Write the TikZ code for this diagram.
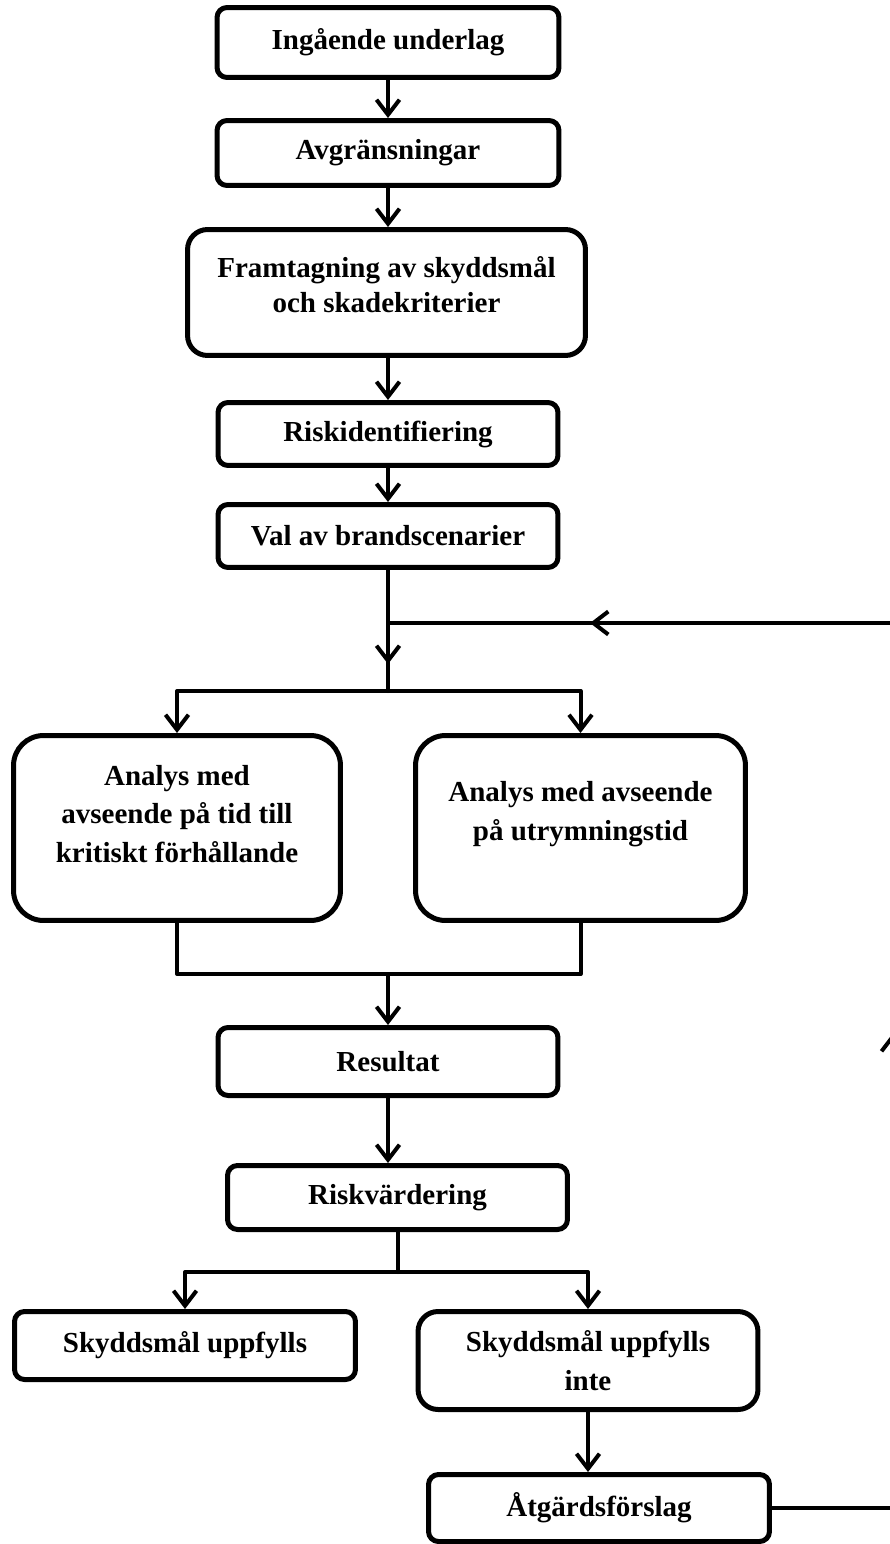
\documentclass[tikz,border=0pt]{standalone}
\usepackage{fontspec}
\setmainfont{Liberation Serif}
\usetikzlibrary{arrows.meta}

\begin{document}
\begin{tikzpicture}[
    x=0.02cm,
    y=-0.02cm,
    every path/.style={line cap=round,line join=round},
    txt/.style={align=center,inner sep=0pt,
      font=\bfseries\fontsize{16.5}{22}\selectfont},
    box/.style={txt,draw,line width=0.1cm,rounded corners=0.2cm},
    midbox/.style={box,rounded corners=0.4cm},
    bigbox/.style={box,rounded corners=0.6cm},
    conn/.style={line width=0.08cm},
    arr/.style={conn,-{Straight Barb[length=0.3cm,width=0.46cm]}}
  ]
    \useasboundingbox (0,0) rectangle (889,1544);

    % Upper chain of steps.
    \node[box,minimum width=6.84cm,minimum height=1.4cm] (ingaende) at (388,42.5) {Ingående underlag};
    \node[box,minimum width=6.84cm,minimum height=1.3cm] (avgr) at (388,153) {Avgränsningar};
    \node[midbox,minimum width=7.96cm,minimum height=2.52cm] (framt) at (386.5,292.5) {};
    \node[txt,font=\bfseries\fontsize{16.5}{20}\selectfont] (framttext) at (386.5,285)
      {Framtagning av skyddsmål\\och skadekriterier};
    \node[box,minimum width=6.8cm,minimum height=1.26cm] (riskid) at (388,434) {Riskidentifiering};
    \node[box,minimum width=6.8cm,minimum height=1.26cm] (val) at (388,536) {Val av brandscenarier};

    \draw[arr] (ingaende.south) -- (avgr.north);
    \draw[arr] (avgr.south) -- (avgr.south |- framt.north);
    \draw[arr] (avgr.south |- framt.south) -- (riskid.north);
    \draw[arr] (riskid.south) -- (val.north);

    % Split into the two analyses.
    \coordinate (loopin) at (388,623);
    \coordinate (midtip) at (388,664);
    \coordinate (fork) at (388,691);
    \node[bigbox,minimum width=6.54cm,minimum height=3.7cm] (analysT) at (177,828) {};
    \node[txt] (analysTtext) at (177,814)
      {Analys med\\avseende på tid till\\kritiskt förhållande};
    \node[bigbox,minimum width=6.6cm,minimum height=3.7cm] (analysU) at (580.5,828) {};
    \node[txt] (analysUtext) at (580.5,814)
      {Analys med avseende\\på utrymningstid};

    \draw[conn] (val.south) -- (fork);
    \draw[arr] (loopin) -- (midtip);
    \draw[arr] (fork) -| (analysT.north);
    \draw[arr] (fork) -| (analysU.north);

    % Join, result and evaluation.
    \coordinate (join) at (388,974);
    \node[box,minimum width=6.8cm,minimum height=1.36cm] (resultat) at (388,1061.5) {Resultat};
    \node[box,minimum width=6.8cm,minimum height=1.28cm] (riskv) at (397.5,1197.5) {Riskvärdering};

    \draw[conn] (analysT.south) |- (join) -| (analysU.south);
    \draw[arr] (join) -- (resultat.north);
    \draw[arr] (resultat.south) -- (resultat.south |- riskv.north);

    % Outcome of the evaluation.
    \coordinate (fork2) at (397.5,1272);
    \node[box,minimum width=6.82cm,minimum height=1.36cm] (skyddok) at (185,1345.5) {Skyddsmål uppfylls};
    \node[midbox,minimum width=6.8cm,minimum height=1.96cm] (skyddinte) at (588,1360.5)
      {Skyddsmål uppfylls\\inte};
    \node[box,minimum width=6.82cm,minimum height=1.34cm] (atgard) at (599,1508) {Åtgärdsförslag};

    \draw[conn] (riskv.south) -- (fork2);
    \draw[arr] (fork2) -| (skyddok.north);
    \draw[arr] (fork2) -| (skyddinte.north);
    \draw[arr] (skyddinte.south) -- (skyddinte.south |- atgard.north);

    % Feedback loop, running just past the right margin.
    \coordinate (loopB) at (893,1508);
    \coordinate (loopUp) at (893,1033);
    \coordinate (loopT) at (893,623);
    \coordinate (loopLeft) at (590,623);
    \draw[conn] (atgard.east) -- (loopB) -- (loopT) -- (loopin);
    \draw[arr] (loopB) -- (loopUp);
    \draw[arr] (loopT) -- (loopLeft);
  \end{tikzpicture}
\end{document}
